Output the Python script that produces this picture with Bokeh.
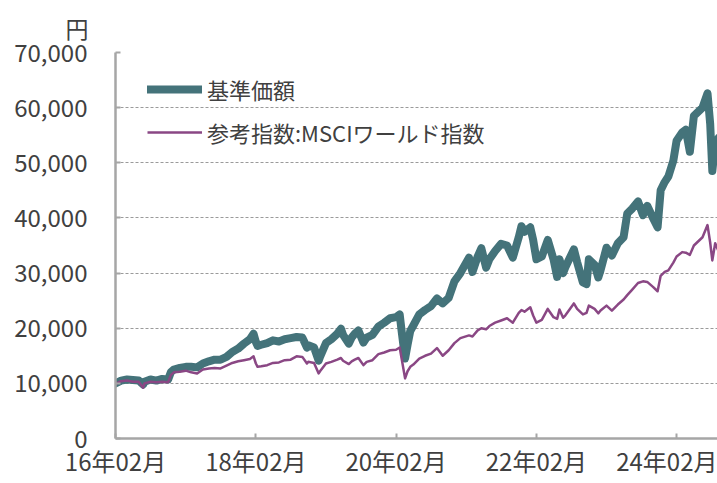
import pandas as pd
from bokeh.plotting import figure
from bokeh.models import (FixedTicker, NumeralTickFormatter, DatetimeTickFormatter,
                          Legend, LegendItem, Range1d, ColumnDataSource)
from bokeh.embed import file_html
from bokeh.resources import INLINE

dates = [
    "2016-02-01", "2016-03-01", "2016-04-01", "2016-05-01", "2016-06-01", "2016-06-24",
    "2016-07-01", "2016-08-01", "2016-09-01", "2016-10-01", "2016-11-01", "2016-11-15",
    "2016-12-01", "2017-01-01", "2017-02-01", "2017-03-01", "2017-04-01", "2017-05-01",
    "2017-06-01", "2017-07-01", "2017-08-01", "2017-09-01", "2017-10-01", "2017-11-01",
    "2017-12-01", "2018-01-01", "2018-01-20", "2018-02-01", "2018-02-10", "2018-03-01",
    "2018-04-01", "2018-05-01", "2018-06-01", "2018-07-01", "2018-08-01", "2018-09-01",
    "2018-10-01", "2018-10-25", "2018-11-01", "2018-12-01", "2018-12-25", "2019-01-01",
    "2019-02-01", "2019-03-01", "2019-04-01", "2019-04-20", "2019-05-01", "2019-05-31",
    "2019-06-15", "2019-07-01", "2019-07-20", "2019-08-15", "2019-09-01", "2019-10-01",
    "2019-11-01", "2019-12-01", "2020-01-01", "2020-02-01", "2020-02-20", "2020-03-01",
    "2020-03-19", "2020-04-01", "2020-04-15", "2020-05-01", "2020-06-01", "2020-07-01",
    "2020-08-01", "2020-09-01", "2020-10-01", "2020-11-01", "2020-12-01", "2021-01-01",
    "2021-02-15", "2021-03-05", "2021-04-01", "2021-04-20", "2021-05-15", "2021-06-01",
    "2021-07-01", "2021-08-01", "2021-09-01", "2021-10-01", "2021-11-01", "2021-11-15",
    "2021-12-01", "2021-12-31", "2022-01-15", "2022-02-01", "2022-03-01", "2022-04-01",
    "2022-05-01", "2022-05-20", "2022-06-01", "2022-06-20", "2022-07-01", "2022-08-15",
    "2022-09-01", "2022-10-01", "2022-10-20", "2022-11-01", "2022-12-01", "2022-12-20",
    "2023-01-01", "2023-02-01", "2023-03-01", "2023-04-01", "2023-05-01", "2023-05-20",
    "2023-06-15", "2023-07-15", "2023-08-10", "2023-09-01", "2023-10-01", "2023-10-25",
    "2023-11-10", "2023-12-01", "2023-12-20", "2024-01-15", "2024-02-01", "2024-03-01",
    "2024-03-20", "2024-04-10", "2024-05-01", "2024-06-15", "2024-07-11", "2024-07-25",
    "2024-08-05", "2024-08-20", "2024-09-06",
]

nav = [
    10000, 10500, 10700, 10600, 10500, 9800,
    10300, 10700, 10500, 10800, 10700, 12000,
    12500, 12800, 13000, 13000, 12900, 13600,
    14000, 14300, 14300, 14800, 15700, 16300,
    17200, 18000, 19000, 17500, 16800, 17000,
    17300, 17800, 17600, 18000, 18200, 18400,
    18300, 16500, 16900, 16500, 14100, 14800,
    17300, 18000, 19000, 19900, 18800, 17200,
    18300, 19000, 19600, 17400, 18300, 18800,
    20300, 21000, 21800, 22000, 22500, 19500,
    14500, 17000, 19500, 20500, 22500, 23300,
    24000, 25400, 24500, 25500, 28500, 30000,
    32800, 30200, 33000, 34500, 31000, 32500,
    34000, 35300, 35000, 32800, 36500, 38500,
    37500, 38300, 36000, 32500, 33000, 36000,
    32500, 29300, 32500, 30000, 31000, 34300,
    32000, 28300, 28000, 32500, 31500, 29200,
    30500, 34600, 33200, 35400, 36500, 40800,
    41700, 43000, 40500, 42200, 40000, 38300,
    45000, 46500, 47500, 50400, 54000, 55500,
    56000, 52000, 58500, 60000, 62600, 57000,
    48500, 53500, 54500,
]

benchmark = [
    9900, 10400, 10500, 10300, 10300, 9200,
    10000, 10300, 10200, 10300, 10200, 11500,
    12000, 12100, 12300, 12000, 11800, 12500,
    12700, 12800, 12700, 13200, 13700, 14000,
    14200, 14400, 14900, 13600, 13000, 13100,
    13300, 13700, 13800, 14200, 14300, 14900,
    14800, 13600, 13900, 13700, 11800, 12200,
    13600, 13900, 14300, 14600, 14100, 13500,
    14000, 14300, 14600, 13300, 13900, 14200,
    15300, 15600, 16000, 16100, 16500, 14500,
    10900, 12200, 13000, 13400, 14500, 15000,
    15400, 16400, 15000, 16000, 17300, 18200,
    18700, 18500, 19600, 20000, 19800, 20400,
    21000, 21400, 21800, 21000, 22800, 23300,
    23000, 23800, 22300, 21000, 21500, 23500,
    22000, 21700, 23400, 21900, 22300, 24500,
    23500, 22500, 22800, 24100, 23500, 22700,
    23200, 24100, 23200, 24300, 25200, 26000,
    27000, 28200, 28500, 28400, 27500, 26700,
    29500, 30200, 30500, 31900, 33000, 33800,
    33700, 33300, 35000, 36500, 38700, 35500,
    32300, 35400, 34000,
]

y_ticks = [0, 10000, 20000, 30000, 40000, 50000, 60000, 70000]
x_tick_dates = ["2016-02-01", "2018-02-01", "2020-02-01", "2022-02-01", "2024-02-01"]
x_start, x_end = "2016-02-01", "2024-09-01"
series_names = ["基準価額", "参考指数:MSCIワールド指数"]
unit_label = "円"

TEAL = "#44737A"
PURPLE = "#8A4784"
FONT = "Noto Sans CJK JP"
TXT = "#404040"
AXC = "#A6A6A6"


def ms(d):
    return pd.Timestamp(d).value / 1e6


src = ColumnDataSource(dict(x=pd.to_datetime(dates), nav=nav, bm=benchmark))

p = figure(width=717, height=483, x_axis_type="datetime",
           output_backend="svg", toolbar_location=None,
           min_border_left=115, min_border_right=0,
           min_border_top=52, min_border_bottom=45)
p.x_range = Range1d(ms(x_start), ms(x_end))
p.y_range = Range1d(0, 70000)
p.outline_line_color = None
p.background_fill_color = "white"
p.border_fill_color = "white"

# unit label as a left-shifted title
p.title.text = unit_label
p.title.align = "left"
p.title.offset = -50
p.title.standoff = 16
p.title.text_font = FONT
p.title.text_font_size = "23px"
p.title.text_font_style = "normal"
p.title.text_color = TXT

r1 = p.line("x", "nav", source=src, line_color=TEAL, line_width=8,
            line_cap="round", line_join="round")
r2 = p.line("x", "bm", source=src, line_color=PURPLE, line_width=2.5,
            line_join="round")

# axes
p.yaxis.ticker = FixedTicker(ticks=y_ticks)
p.yaxis.formatter = NumeralTickFormatter(format="0,0")
p.xaxis.ticker = FixedTicker(ticks=[ms(d) for d in x_tick_dates])
fmt = "%y年%m月"
p.xaxis.formatter = DatetimeTickFormatter(years=fmt, months=fmt, days=fmt,
                                          hours=fmt, hourmin=fmt)
for ax in (p.xaxis, p.yaxis):
    ax.axis_line_color = AXC
    ax.axis_line_width = 2.5
    ax.major_tick_line_color = AXC
    ax.major_tick_line_width = 2
    ax.major_tick_in = 5
    ax.major_tick_out = 0
    ax.minor_tick_line_color = None
    ax.major_label_text_font = FONT
    ax.major_label_text_font_size = "24px"
    ax.major_label_text_color = TXT
p.yaxis.major_label_standoff = 28
p.xaxis.major_label_standoff = 4

p.xgrid.grid_line_color = None
p.ygrid.grid_line_color = "#9A9A9A"
p.ygrid.grid_line_dash = "3 2"
p.ygrid.grid_line_width = 1

legend = Legend(items=[LegendItem(label=series_names[0], renderers=[r1]),
                       LegendItem(label=series_names[1], renderers=[r2])],
                location=(32, 290), orientation="vertical",
                background_fill_alpha=0, border_line_alpha=0,
                padding=0, margin=0, spacing=11,
                glyph_width=55, glyph_height=24, label_height=24,
                label_standoff=5, label_text_font=FONT,
                label_text_font_size="22px", label_text_color=TXT)
p.add_layout(legend)

open("out.html", "w").write(file_html(p, INLINE))
